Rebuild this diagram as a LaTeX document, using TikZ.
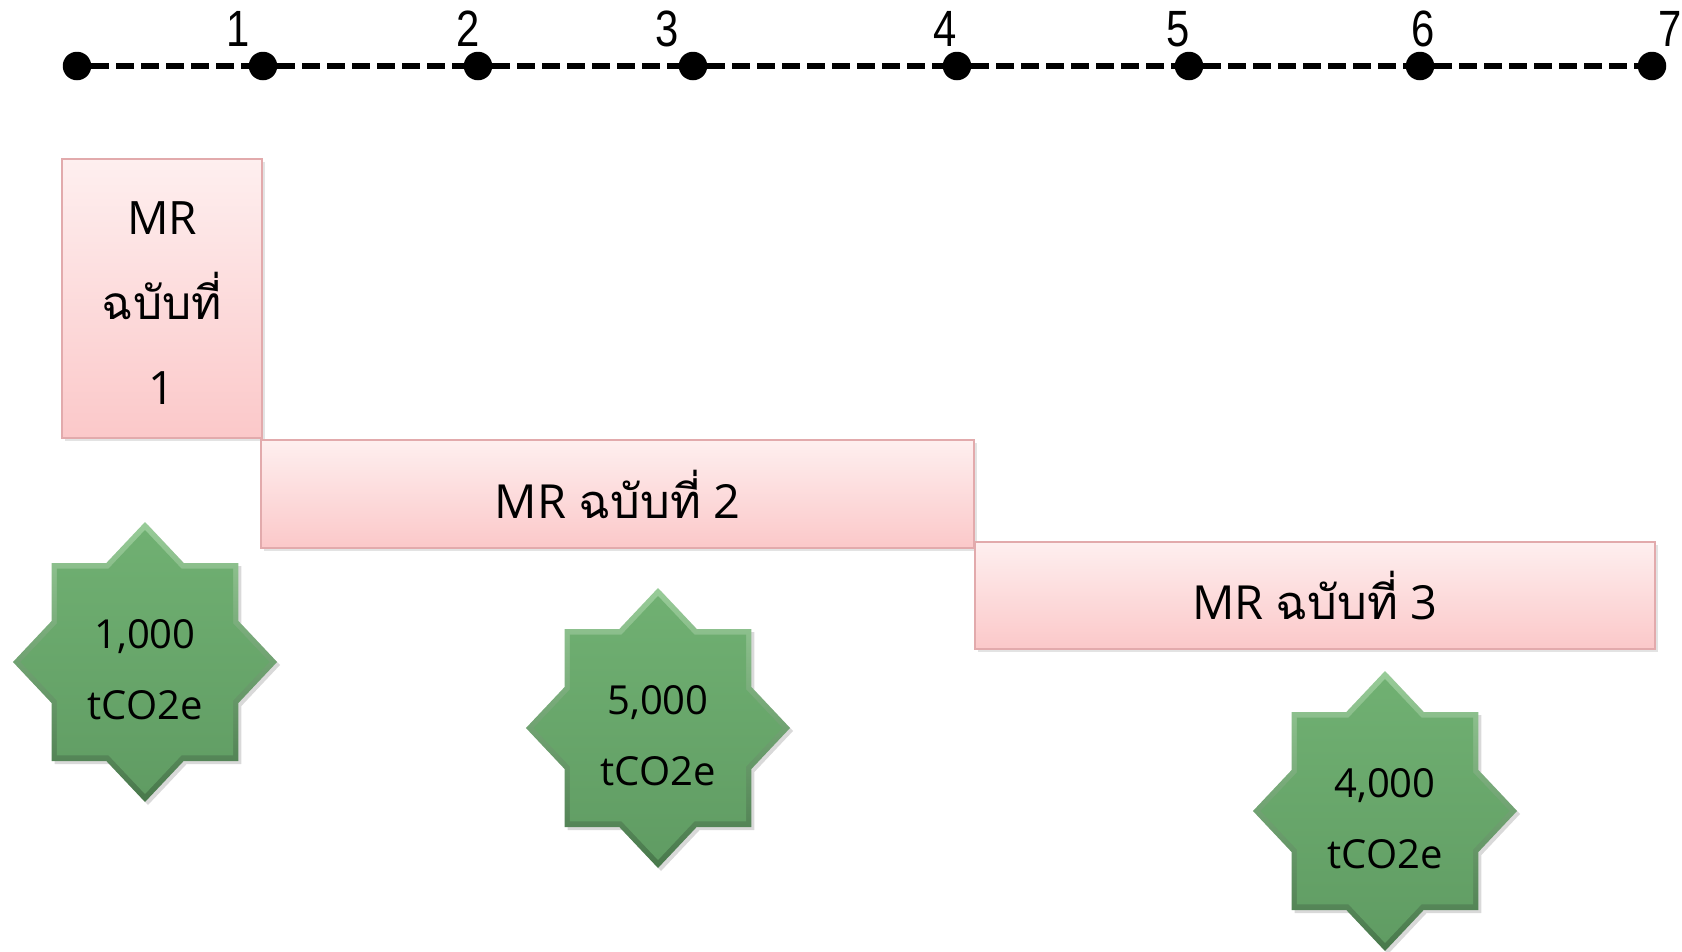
\documentclass[tikz,border=0pt]{standalone}
\usepackage{fontspec}
\setmainfont{Open Sans}
\newfontfamily\thaifont[Script=Thai]{Loma}
\newfontfamily\axisfont[FakeStretch=0.82]{Liberation Sans}
\usetikzlibrary{shapes.geometric,shadows}

\definecolor{mrtop}{RGB}{254,239,239}
\definecolor{mrbot}{RGB}{251,200,201}
\definecolor{mrborder}{RGB}{226,170,172}
\definecolor{rimtop}{RGB}{152,204,152}
\definecolor{rimbot}{RGB}{72,120,75}
\definecolor{coretop}{RGB}{112,176,114}
\definecolor{corebot}{RGB}{96,156,99}

\tikzset{
  dot/.style={circle, fill=black, inner sep=0pt, minimum size=28.5pt},
  axislabel/.style={font=\axisfont\fontsize{51}{51}\selectfont, inner sep=0pt},
  dashline/.style={line width=6.5pt, dash pattern=on 18pt off 7pt},
  mrbox/.style={rectangle, draw=mrborder, line width=2.5pt,
    top color=mrtop, bottom color=mrbot, inner sep=0pt, align=center,
    font=\fontsize{47}{85}\selectfont,
    drop shadow={opacity=0.22, shadow xshift=2.5pt, shadow yshift=-2.5pt}},
  starrim/.style={star, star points=8, star point ratio=1.3066,
    minimum size=280pt, inner sep=0pt, xscale=0.943,
    top color=rimtop, bottom color=rimbot,
    drop shadow={opacity=0.3, shadow xshift=3pt, shadow yshift=-3pt}},
  starcore/.style={star, star points=8, star point ratio=1.3066,
    minimum size=264pt, inner sep=0pt, xscale=0.943,
    top color=coretop, bottom color=corebot},
  startext/.style={align=center, inner sep=0pt, font=\fontsize{40}{71}\selectfont}
}

\begin{document}
\begin{tikzpicture}[x=1pt, y=-1pt]
\useasboundingbox (0,0) rectangle (1682,951);

% time axis
\foreach \i/\x in {0/77,1/263,2/478,3/693,4/957,5/1189,6/1420,7/1652}
  \node[dot] (d\i) at (\x,66) {};
\foreach \a/\b in {0/1,1/2,2/3,3/4,4/5,5/6,6/7}
  \draw[dashline] (d\a) -- (d\b);
\foreach \i/\x in {1/238,2/468,3/667,4/945,5/1178,6/1423,7/1670}
  \node[axislabel] (t\i) at (\x,29) {\i};

% monitoring report periods
\node[mrbox, minimum width=200pt, minimum height=279pt] (mr1) at (162,298.5) {};
\node[align=center, inner sep=0pt, font=\fontsize{46}{85}\selectfont] (mr1text)
  at ([yshift=-5pt]mr1.center) {MR\\{\thaifont ฉบับที่}\\1};
\node[mrbox, minimum width=713pt, minimum height=108pt] (mr2) at (617.5,494)
  {MR {\thaifont ฉบับที่} 2};
\node[mrbox, minimum width=680pt, minimum height=107pt] (mr3) at (1315,595.5)
  {MR {\thaifont ฉบับที่} 3};

% verified emission reductions
\foreach \n/\x/\y/\v in {a/145/662/1{,}000, b/658/728/5{,}000, c/1385/811/4{,}000}{
  \coordinate (pos\n) at (\x,\y);
  \node[starrim] (rim\n) at (pos\n) {};
  \node[starcore] (core\n) at (pos\n) {};
  \node[startext] (val\n) at ([yshift=-8pt]pos\n) {\v\\tCO2e};
}
\end{tikzpicture}
\end{document}
